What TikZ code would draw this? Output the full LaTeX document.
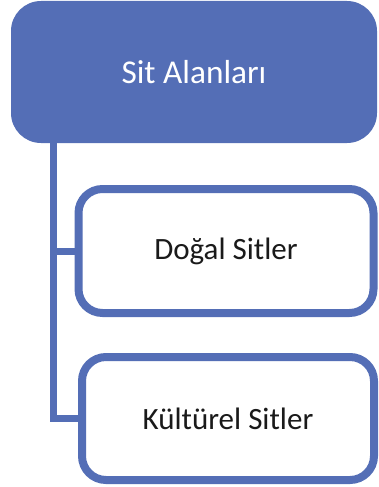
\documentclass[tikz,border=0pt]{standalone}
\usepackage{fontspec}
\setmainfont{Carlito}
\definecolor{sablue}{RGB}{84,110,182}
\definecolor{txtdark}{RGB}{26,26,26}
\begin{document}
\begin{tikzpicture}[x=1pt,y=1pt,
  topbox/.style={rectangle, rounded corners=30pt, fill=sablue, draw=none, inner sep=0pt,
     text=white, font=\fontsize{33.3}{36}\selectfont},
  childbox/.style={rectangle, rounded corners=24pt, fill=white, draw=sablue, line width=8pt,
     inner sep=0pt, text=txtdark, font=\fontsize{31}{34}\selectfont},
  link/.style={draw=sablue, line width=7pt}]
\useasboundingbox (0,0) rectangle (378,-487);
\node[topbox, minimum width=366pt, minimum height=142pt] (top) at (194,-72) {Sit Alanları};
\node[childbox, minimum width=295pt, minimum height=124pt] (c1) at (226,-251) {Doğal Sitler};
\node[childbox, minimum width=292pt, minimum height=123pt] (c2) at (228,-418.5) {Kültürel Sitler};
\coordinate (trunk) at (53.5,-143);
\draw[link] (trunk) |- (c1.west);
\draw[link] (trunk) |- (c2.west);
\end{tikzpicture}
\end{document}
